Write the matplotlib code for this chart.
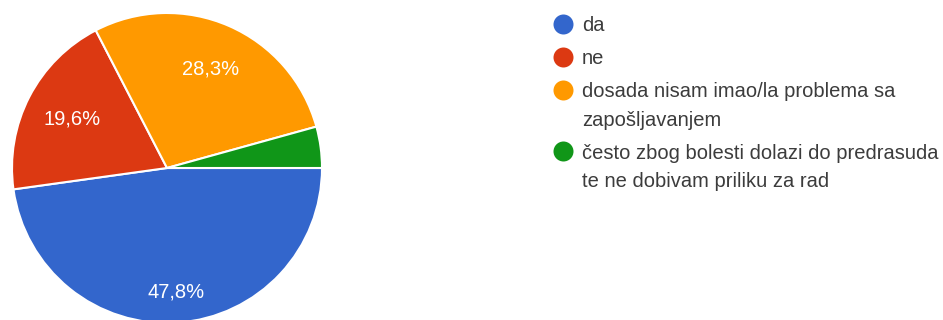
import numpy as np
import matplotlib.pyplot as plt

# survey answers and their shares (%)
labels = [
    "da",
    "ne",
    "dosada nisam imao/la problema sa\nzapošljavanjem",
    "često zbog bolesti dolazi do predrasuda\nte ne dobivam priliku za rad",
]
shares = [47.8, 19.6, 28.3, 4.3]
colors = ["#3366CC", "#DC3912", "#FF9900", "#109618"]

W, H = 943, 320
plt.rcParams["font.family"] = ["Liberation Sans", "DejaVu Sans"]

fig = plt.figure(figsize=(W / 100, H / 100), dpi=100)
ax = fig.add_axes([0, 0, 1, 1])

# pie in pixel units, y pointing up
cx, cy, r = 167, H - 168, 155
wedges, _, autotexts = ax.pie(
    shares,
    colors=colors,
    startangle=0,
    counterclock=False,
    center=(cx, cy),
    radius=r,
    autopct=lambda p: f"{p:.1f}%".replace(".", ",") if p > 5 else "",
    pctdistance=0.7,
    wedgeprops=dict(edgecolor="white", linewidth=1.5),
    textprops=dict(color="white", fontsize=14.5),
)

# move the percentage labels radially (blue one sits lower)
label_dist = [0.8, 0.69, 0.7, 0.7]
for w, t, d in zip(wedges, autotexts, label_dist):
    mid = np.deg2rad((w.theta1 + w.theta2) / 2)
    t.set_position((cx + d * r * np.cos(mid), cy + d * r * np.sin(mid)))
    t.set_ha("center")
    t.set_va("center")

ax.set_xlim(0, W)
ax.set_ylim(0, H)
ax.set_aspect("equal")
ax.axis("off")

# legend drawn by hand: dot next to the first line, one text per line
line_h = 28.6
gap = 33
base = 31  # baseline of first entry, px from top
for lab, col in zip(labels, colors):
    ax.plot(562.5, H - (base - 7.5), "o", ms=14.4, color=col, mec="none",
            clip_on=False)
    lines = lab.split("\n")
    for k, ln in enumerate(lines):
        ax.text(582, H - (base + k * line_h), ln, fontsize=14.5,
                color="#3c3c3c", ha="left", va="baseline")
    base += line_h * (len(lines) - 1) + gap

fig.savefig("out.png", dpi=100)
